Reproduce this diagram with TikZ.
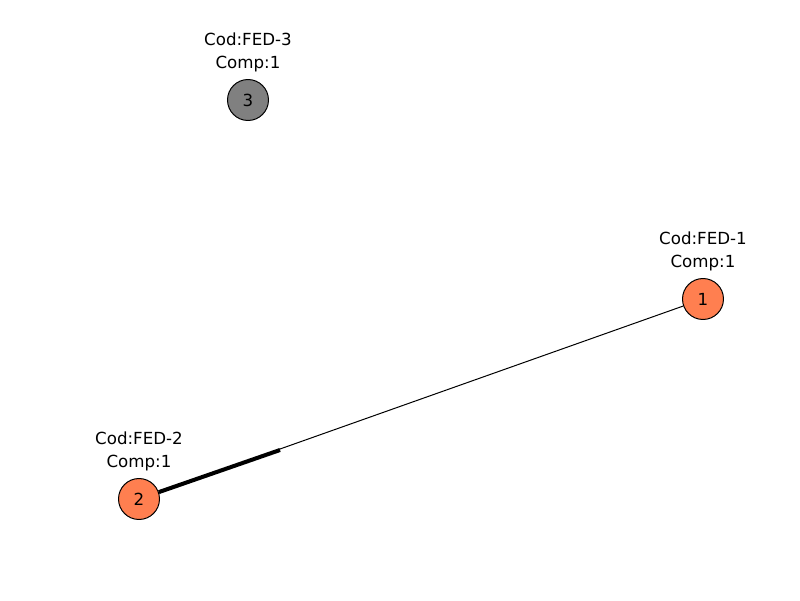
\documentclass[tikz,border=0pt]{standalone}
\usepackage{fontspec}
\setmainfont{DejaVu Sans}
\begin{document}
\begin{tikzpicture}[x=0.72pt,y=-0.72pt,
  vertex/.style={circle,draw=black,line width=0.72pt,minimum size=29.5pt,inner sep=0pt,font=\fontsize{12}{14}\selectfont},
  lbl/.style={align=center,inner sep=0pt,font=\fontsize{12}{16.5}\selectfont},
  thinedge/.style={line width=0.72pt},
  thickedge/.style={line width=2.9pt}]
\useasboundingbox (0,0) rectangle (800,600);
\node[vertex,fill={rgb,255:red,255;green,127;blue,80}] (n1) at (703,299) {1};
\node[vertex,fill={rgb,255:red,255;green,127;blue,80}] (n2) at (139,499) {2};
\node[vertex,fill={rgb,255:red,128;green,128;blue,128}] (n3) at (248,100) {3};
\node[lbl] (l1) at (703,251) {Cod:FED-1\\Comp:1};
\node[lbl] (l2) at (139,451) {Cod:FED-2\\Comp:1};
\node[lbl] (l3) at (248,52) {Cod:FED-3\\Comp:1};
\coordinate (c) at (280,450);
\draw[thinedge] (n1) -- (n2);
\draw[thickedge] (c) -- (n2);
\end{tikzpicture}
\end{document}
